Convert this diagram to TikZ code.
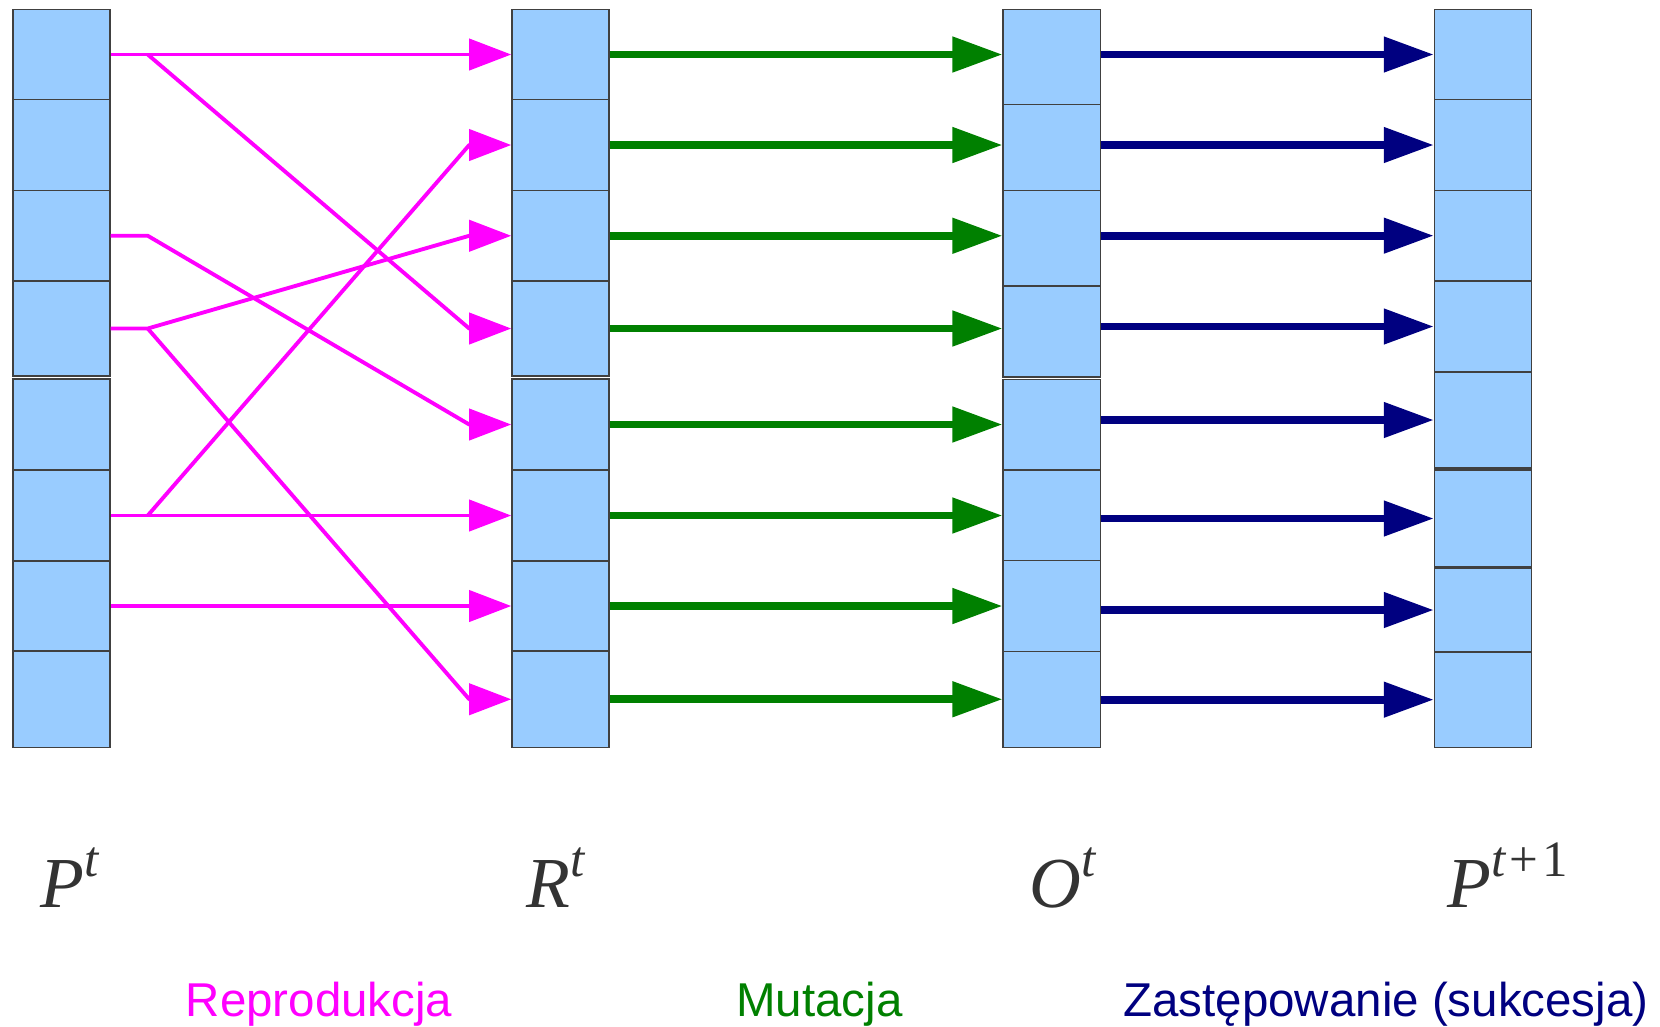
\documentclass[tikz,border=0pt]{standalone}
\usepackage{fontspec}
\setsansfont{Liberation Sans}
\newfontfamily\labelfont{Liberation Serif}
\usetikzlibrary{arrows.meta}

\definecolor{cellblue}{HTML}{99CCFF}
\definecolor{reprcol}{HTML}{FF00FF}
\definecolor{mutcol}{HTML}{008000}
\definecolor{succcol}{HTML}{000080}
\definecolor{labgray}{HTML}{333333}

\newcommand{\poptext}[2]{{\itshape #1}\raisebox{0.42em}{\fontsize{14.5}{14.5}\selectfont #2}}

\begin{document}
\begin{tikzpicture}[x=0.01cm, y=0.01cm]
        \tikzstyle{cell}=[draw=black!75, line width=0.4pt, fill=cellblue, rectangle, inner sep=0pt, minimum width=0.97cm]
        \tikzstyle{repr}=[draw=reprcol, line width=1.1pt, line join=round, -{Triangle[length=0.42cm, width=0.31cm]}]
        \tikzstyle{mut}=[draw=mutcol, line width=2.2pt, -{Triangle[length=0.5cm, width=0.34cm]}]
        \tikzstyle{succ}=[draw=succcol, line width=2.2pt, -{Triangle[length=0.5cm, width=0.34cm]}]
        \tikzstyle{poplabel}=[text=labgray, anchor=base west, inner sep=0pt, font=\labelfont\fontsize{20.4}{20.4}\selectfont]
        \tikzstyle{oplabel}=[anchor=base, font=\sffamily\fontsize{13.5}{13.5}\selectfont]
        \useasboundingbox (0,0) rectangle (1660,-1026);
        % populations P^t and R^t
        \foreach \i/\a/\b in {1/9.5/99.5, 2/99.5/190.5, 3/190.5/281, 4/281/376, 5/379/470, 6/470/561, 7/561/651, 8/651/747.5} {
            \node[cell, minimum height={(\b-\a)*0.01cm}] (p\i) at (61.5,{-(\a+\b)/2}) {};
            \node[cell, minimum height={(\b-\a)*0.01cm}] (r\i) at (560.5,{-(\a+\b)/2}) {};
        }
        % offspring O^t
        \foreach \i/\a/\b in {1/9.3/104.7, 2/104.7/190.3, 3/190.3/286, 4/286/377, 5/379.7/470, 6/470/560.7, 7/560.7/651.3, 8/651.3/747.3}
            \node[cell, minimum height={(\b-\a)*0.01cm}] (o\i) at (1051.7,{-(\a+\b)/2}) {};
        % next population P^{t+1}
        \foreach \i/\a/\b in {1/9.3/99.7, 2/99.7/190.3, 3/190.3/281, 4/281/372, 5/372/468, 6/470/567, 7/568/652, 8/652/747.3}
            \node[cell, minimum height={(\b-\a)*0.01cm}] (n\i) at (1483,{-(\a+\b)/2}) {};
        % reproduction (heads stay horizontal)
        \foreach \i in {1,3,4,6}
            \coordinate (j\i) at ([xshift=0.37cm]p\i.east);
        \foreach \i in {1,...,8}
            \coordinate (h\i) at ([xshift=-0.42cm]r\i.west);
        \draw[repr] (p1.east) -- (j1) -- (r1.west);
        \draw[repr] (j1) -- (h4) -- (r4.west);
        \draw[repr] (p3.east) -- (j3) -- (h5) -- (r5.west);
        \draw[repr] (p4.east) -- (j4) -- (h3) -- (r3.west);
        \draw[repr] (j4) -- (h8) -- (r8.west);
        \draw[repr] (p6.east) -- (j6) -- (r6.west);
        \draw[repr] (j6) -- (h2) -- (r2.west);
        \draw[repr] (p7.east) -- (r7.west);
        % mutation and succession
        \foreach \i in {1,...,8} {
            \draw[mut] (r\i.east) -- (o\i.west |- r\i);
            \draw[succ] (o\i.east |- n\i) -- (n\i.west);
        }
        % labels
        \node[poplabel] (lp) at (40,-907) {\poptext{P}{\itshape t}};
        \node[poplabel] (lr) at (526,-907) {\poptext{R}{\itshape t}};
        \node[poplabel] (lo) at (1029,-907) {\poptext{O}{\itshape t}};
        \node[poplabel] (ln) at (1447,-907) {\poptext{P}{{\itshape t}\kern0.08em+\kern0.08em1}};
        \node[oplabel, text=reprcol] (trepr) at (319,-1016) {Reprodukcja};
        \node[oplabel, text=mutcol] (tmut) at (819.5,-1016) {Mutacja};
        \node[oplabel, text=succcol] (tsucc) at (1386,-1016) {Zastępowanie (sukcesja)};
\end{tikzpicture}
\end{document}
